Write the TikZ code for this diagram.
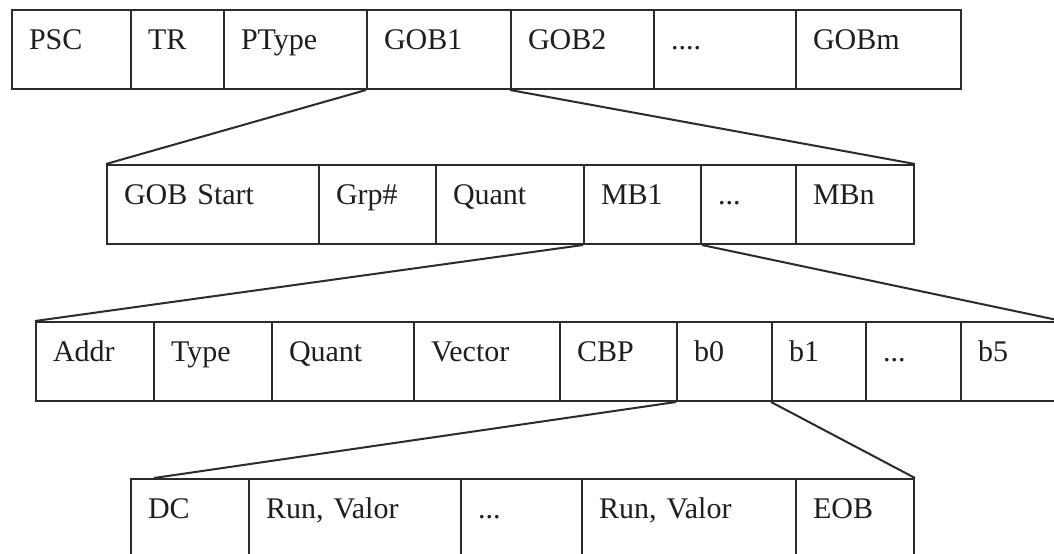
\documentclass[tikz,border=0pt]{standalone}
\usepackage{fontspec}
\setmainfont{Liberation Serif}
\usetikzlibrary{calc}

\definecolor{rulecol}{HTML}{2B2B2B}
\definecolor{inkcol}{HTML}{1E1E1E}

% one field of a record: name, left x, top y, width (all in px), label
\newcommand\fieldcell[5]{%
  \pgfmathsetlengthmacro\fieldtw{(#4-34)*0.5pt}%
  \node[cell, minimum width=#4*0.5pt, text width=\fieldtw] (#1) at (#2,#3) {#5};}

\begin{document}
\begin{tikzpicture}[x=0.5pt, y=-0.5pt,
  cell/.style={draw=rulecol, line width=1pt, anchor=north west,
    inner xsep=8.5pt, inner ysep=0pt, minimum height=39.5pt,
    text height=19.5pt, text depth=20pt, align=left, text=inkcol,
    font=\fontsize{15pt}{18pt}\selectfont},
  link/.style={draw=rulecol, line width=1pt}]
\clip (0,0) rectangle (1054,553);
\fill[white] (0,0) rectangle (1054,553);

% picture layer
\fieldcell{psc}{11}{9}{119}{PSC}
\fieldcell{tr}{130}{9}{93}{TR}
\fieldcell{ptype}{223}{9}{143}{PType}
\fieldcell{gob1}{366}{9}{144}{GOB1}
\fieldcell{gob2}{510}{9}{143}{GOB2}
\fieldcell{gobdots}{653}{9}{142}{....}
\fieldcell{gobm}{795}{9}{165}{GOBm}

% group of blocks layer
\fieldcell{gobstart}{106}{164}{212}{GOB Start}
\fieldcell{grp}{318}{164}{117}{Grp\#}
\fieldcell{gquant}{435}{164}{148}{Quant}
\fieldcell{mb1}{583}{164}{117}{MB1}
\fieldcell{mbdots}{700}{164}{95}{...}
\fieldcell{mbn}{795}{164}{118}{MBn}

% macroblock layer
\fieldcell{addr}{35}{321}{118}{Addr}
\fieldcell{type}{153}{321}{118}{Type}
\fieldcell{mquant}{271}{321}{142}{Quant}
\fieldcell{vector}{413}{321}{146}{Vector}
\fieldcell{cbp}{559}{321}{117}{CBP}
\fieldcell{b0}{676}{321}{95}{b0}
\fieldcell{b1}{771}{321}{94}{b1}
\fieldcell{bdots}{865}{321}{95}{...}
\fieldcell{b5}{960}{321}{100}{b5}

% block layer
\fieldcell{dc}{130}{478}{118}{DC}
\fieldcell{rv1}{248}{478}{212}{Run, Valor}
\fieldcell{rvdots}{460}{478}{121}{...}
\fieldcell{rv2}{581}{478}{214}{Run, Valor}
\fieldcell{eob}{795}{478}{118}{EOB}

% expansion lines
\draw[link] (gob1.south west) -- (gobstart.north west);
\draw[link] (gob2.south west) -- (mbn.north east);
\draw[link] (mb1.south west) -- (addr.north west);
\draw[link] (mb1.south east) -- (b5.north east);
\draw[link] (b0.south west) -- ($(dc.north west)!0.2!(dc.north east)$);
\draw[link] (b1.south west) -- (eob.north east);
\end{tikzpicture}
\end{document}
